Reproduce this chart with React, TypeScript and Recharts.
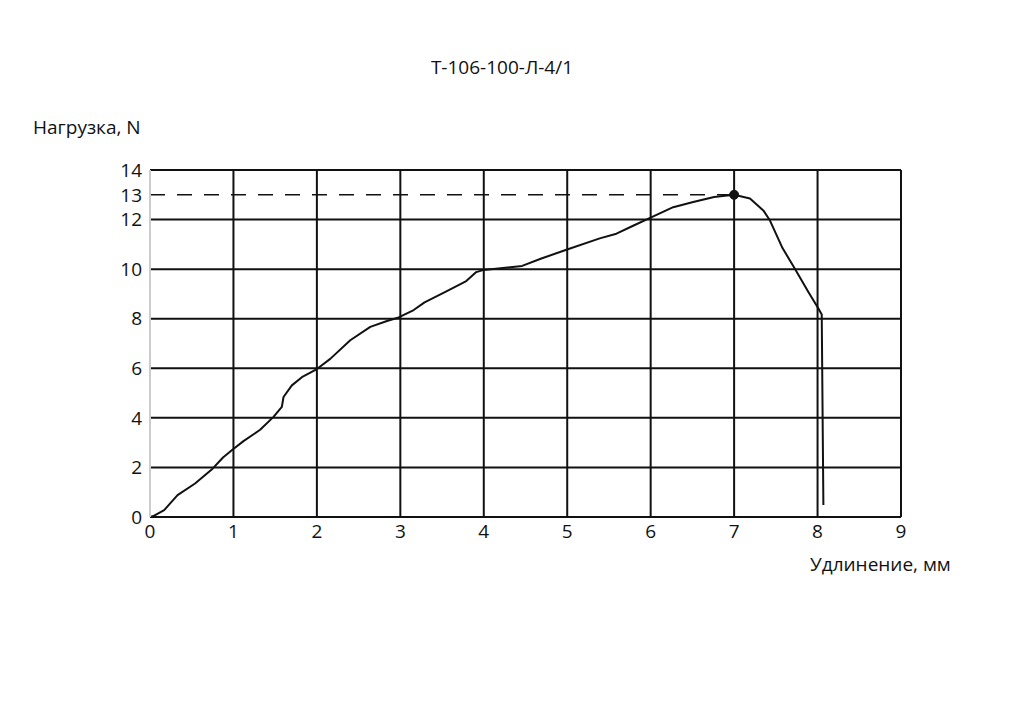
import {
	Line,
	LineChart,
	ReferenceDot,
	ReferenceLine,
	XAxis,
	YAxis,
} from "recharts";

/** Elongation (mm) vs load (N). */
const elongation = [
	0, 0.04, 0.17, 0.33, 0.54, 0.75, 0.875, 0.98, 1.12, 1.32, 1.48, 1.58, 1.6,
	1.7, 1.82, 2.0, 2.16, 2.4, 2.64, 2.84, 2.98, 3.16, 3.29, 3.54, 3.79, 3.91,
	4.0, 4.46, 4.69, 4.99, 5.39, 5.59, 5.79, 5.98, 6.27, 6.51, 6.76, 7.0, 7.19,
	7.35, 7.43, 7.58, 7.73, 7.89, 8.01, 8.05, 8.07,
];
const load = [
	0, 0.04, 0.28, 0.88, 1.35, 1.95, 2.4, 2.69, 3.06, 3.52, 4.04, 4.44, 4.84,
	5.31, 5.64, 5.97, 6.38, 7.13, 7.67, 7.91, 8.05, 8.35, 8.66, 9.08, 9.52, 9.88,
	9.97, 10.13, 10.43, 10.78, 11.24, 11.43, 11.75, 12.05, 12.5, 12.71, 12.91,
	13.0, 12.85, 12.37, 11.96, 10.85, 10.01, 9.08, 8.41, 8.17, 0.48,
];

const xTicks = [0, 1, 2, 3, 4, 5, 6, 7, 8, 9];
const yTicks = [0, 2, 4, 6, 8, 10, 12, 13, 14];
const xGrid = [1, 2, 3, 4, 5, 6, 7, 8, 9];
const yGrid = [2, 4, 6, 8, 10, 12, 14];

const peak = { x: 7, y: 13 };

const title = "Т-106-100-Л-4/1";
const yLabel = "Нагрузка, N";
const xLabel = "Удлинение, мм";

const data = elongation.map((x, i) => ({ x, load: load[i] }));
const dashed = [
	{ x: 0, level: peak.y },
	{ x: peak.x, level: peak.y },
];

const FONT = "'Open Sans', 'Noto Sans', sans-serif";
const INK = "#111";

export default function App() {
	return (
		<div
			style={{
				position: "absolute",
				left: 0,
				top: 0,
				width: 1024,
				height: 723,
				background: "#fff",
				fontFamily: FONT,
			}}
		>
			<LineChart
				width={1024}
				height={723}
				margin={{ top: 170, right: 123, left: 110, bottom: 176 }}
			>
				<XAxis
					type="number"
					dataKey="x"
					domain={[0, 9]}
					ticks={xTicks}
					interval={0}
					allowDataOverflow
					tickLine={false}
					axisLine={{ stroke: INK, strokeWidth: 2 }}
					tick={{ fill: INK, fontSize: 19, fontFamily: FONT }}
					height={30}
				/>
				<YAxis
					type="number"
					domain={[0, 14]}
					ticks={yTicks}
					interval={0}
					allowDataOverflow
					tickLine={false}
					axisLine={{ stroke: "#ccc", strokeWidth: 2 }}
					tick={{ fill: INK, fontSize: 19, fontFamily: FONT }}
					width={40}
				/>

				{yGrid.map((v) => (
					<ReferenceLine key={`y${v}`} y={v} stroke={INK} strokeWidth={2} />
				))}
				{xGrid.map((v) => (
					<ReferenceLine key={`x${v}`} x={v} stroke={INK} strokeWidth={2} />
				))}

				<Line
					data={dashed}
					dataKey="level"
					stroke={INK}
					strokeWidth={1.5}
					strokeDasharray="15 12"
					dot={false}
					isAnimationActive={false}
				/>
				<Line
					data={data}
					dataKey="load"
					type="linear"
					stroke={INK}
					strokeWidth={2}
					strokeLinejoin="round"
					dot={false}
					isAnimationActive={false}
				/>
				<ReferenceDot x={peak.x} y={peak.y} r={4.5} fill={INK} stroke={INK} />

				<text x={502} y={74} textAnchor="middle" fontSize={19} fill={INK} fontFamily={FONT}>
					{title}
				</text>
				<text x={33} y={134} fontSize={19} fill={INK} fontFamily={FONT}>
					{yLabel}
				</text>
				<text x={810} y={571} fontSize={19} fill={INK} fontFamily={FONT}>
					{xLabel}
				</text>
			</LineChart>
		</div>
	);
}
